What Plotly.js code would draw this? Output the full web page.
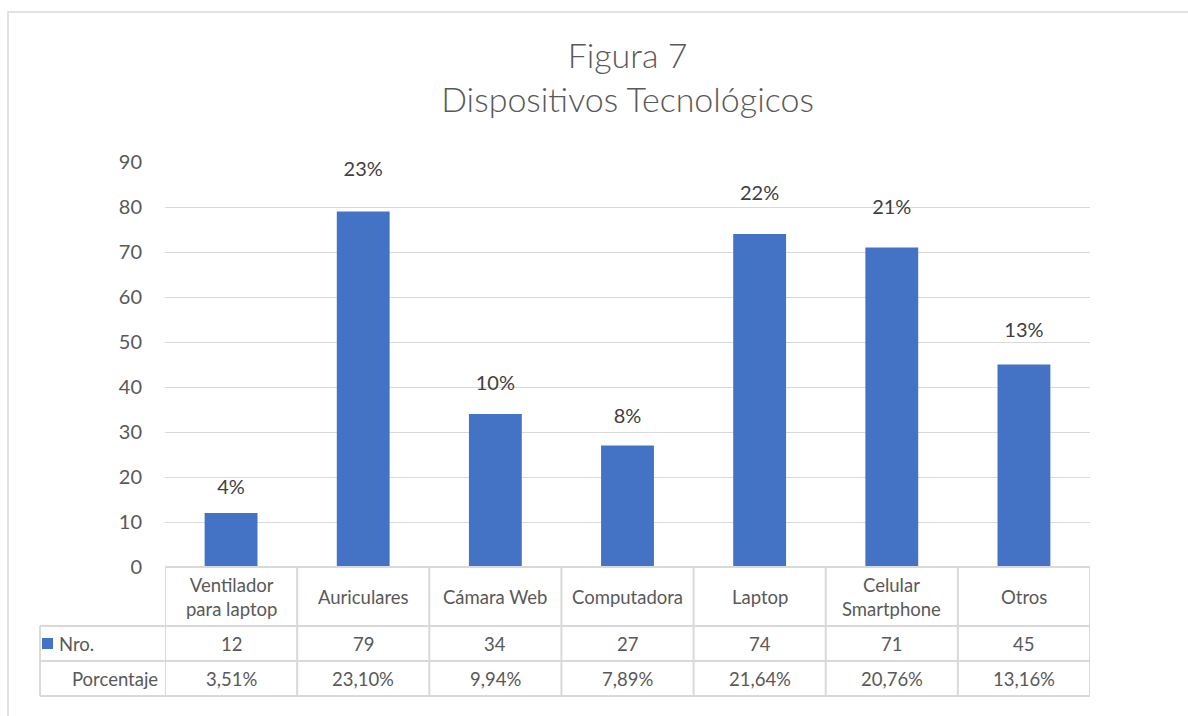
<!DOCTYPE html>
<html><head><meta charset="utf-8">
<script src="https://cdn.plot.ly/plotly-3.0.1.min.js"></script>
<style>html,body{margin:0;padding:0;background:#fff;}</style>
</head><body>
<div id="chart" style="width:1188px;height:716px;"></div>
<script>
const categories = ["Ventilador<br>para laptop", "Auriculares", "Cámara Web", "Computadora", "Laptop", "Celular<br>Smartphone", "Otros"];
const counts = [12, 79, 34, 27, 74, 71, 45];
const percentages = [3.51, 23.10, 9.94, 7.89, 21.64, 20.76, 13.16];
const pctLabels = ["4%", "23%", "10%", "8%", "22%", "21%", "13%"];
const seriesNames = ["Nro.", "Porcentaje"];

const W = 1188, H = 716;
const L = 165, R = 1090, T = 162, B = 567;
const pw = R - L, ph = B - T;
const px = x => (x - L) / pw;
const py = y => (B - y) / ph;

const fontFam = "Lato, 'Open Sans', sans-serif";
const txtCol = "#595959";
const lineCol = "#d9d9d9";
const blue = "#4472c4";
const idx = categories.map((_, i) => i);

const traces = [
  {type: "bar", x: idx, y: counts, marker: {color: blue}, width: 0.4, name: seriesNames[0], hoverinfo: "skip"},
  {type: "scatter", mode: "text", x: idx, y: percentages, yaxis: "y3", text: pctLabels,
   textposition: "top center", textfont: {family: fontFam, size: 20, color: "#404040"}, name: seriesNames[1], hoverinfo: "skip"}
];

const shapes = [];
const annotations = [];
shapes.push({type: "rect", xref: "paper", yref: "paper", x0: px(8), x1: px(1200), y0: py(730), y1: py(12), line: {color: lineCol, width: 1.5}, fillcolor: "rgba(0,0,0,0)", layer: "below"});
const rows = [567, 626, 661, 696];
shapes.push({type: "line", xref: "paper", yref: "paper", x0: px(L), x1: px(R), y0: py(rows[0]), y1: py(rows[0]), line: {color: lineCol, width: 2}});
for (let r = 1; r < rows.length; r++) {
  shapes.push({type: "line", xref: "paper", yref: "paper", x0: px(40), x1: px(R), y0: py(rows[r]), y1: py(rows[r]), line: {color: lineCol, width: 2}});
}
shapes.push({type: "line", xref: "paper", yref: "paper", x0: px(40), x1: px(40), y0: py(626), y1: py(696), line: {color: lineCol, width: 2}});
for (let i = 0; i <= categories.length; i++) {
  shapes.push({type: "line", xref: "x", yref: "paper", x0: i - 0.5, x1: i - 0.5, y0: py(567), y1: py(696), line: {color: lineCol, width: 2}});
}
shapes.push({type: "rect", xref: "paper", yref: "paper", x0: px(42), x1: px(53), y0: py(649), y1: py(638), fillcolor: blue, line: {width: 0}});

const tf = {family: fontFam, size: 18.5, color: txtCol};
categories.forEach((c, i) => {
  annotations.push({xref: "x", yref: "paper", x: i, y: py(597), text: c, showarrow: false, font: tf, xanchor: "center", yanchor: "middle"});
  annotations.push({xref: "x", yref: "paper", x: i, y: py(643.5), text: String(counts[i]), showarrow: false, font: tf, xanchor: "center", yanchor: "middle"});
  annotations.push({xref: "x", yref: "paper", x: i, y: py(678.5), text: percentages[i].toFixed(2).replace(".", ",") + "%", showarrow: false, font: tf, xanchor: "center", yanchor: "middle"});
});
annotations.push({xref: "paper", yref: "paper", x: px(57), y: py(643.5), text: seriesNames[0], showarrow: false, font: tf, xanchor: "left", yanchor: "middle"});
annotations.push({xref: "paper", yref: "paper", x: px(160), y: py(678.5), text: seriesNames[1], showarrow: false, font: tf, xanchor: "right", yanchor: "middle"});

const tickFont = {family: fontFam, size: 20, color: txtCol};
const layout = {
  width: W, height: H,
  margin: {l: L, r: W - R, t: T, b: H - B, pad: 0},
  paper_bgcolor: "#fff", plot_bgcolor: "#fff",
  separators: ",.",
  showlegend: false,
  title: {text: "Figura 7<br>Dispositivos Tecnológicos", x: 0.5, xref: "paper", xanchor: "center", y: 1 - 68 / H, yanchor: "middle",
          font: {family: fontFam, size: 34, color: txtCol, weight: 300}},
  xaxis: {range: [-0.5, categories.length - 0.5], showticklabels: false, showgrid: false, zeroline: false, ticks: "", fixedrange: true},
  yaxis: {range: [0, 90], dtick: 10, tick0: 0, showgrid: true, gridcolor: lineCol, gridwidth: 1, zeroline: false, showline: false,
          tickfont: tickFont, ticks: "", ticklabelstandoff: 22},
  yaxis2: {range: [0, 25], dtick: 5, tick0: 0, overlaying: "y", side: "right", showgrid: false, zeroline: false,
           tickformat: ".2f", ticksuffix: "%", tickfont: tickFont, ticks: "", ticklabelstandoff: 22},
  yaxis3: {range: [-0.7, 24.3], overlaying: "y", side: "right", visible: false, showgrid: false, zeroline: false},
  shapes: shapes,
  annotations: annotations,
  bargap: 0.6
};

Plotly.newPlot("chart", traces, layout, {displayModeBar: false, staticPlot: true});
</script>
</body></html>
